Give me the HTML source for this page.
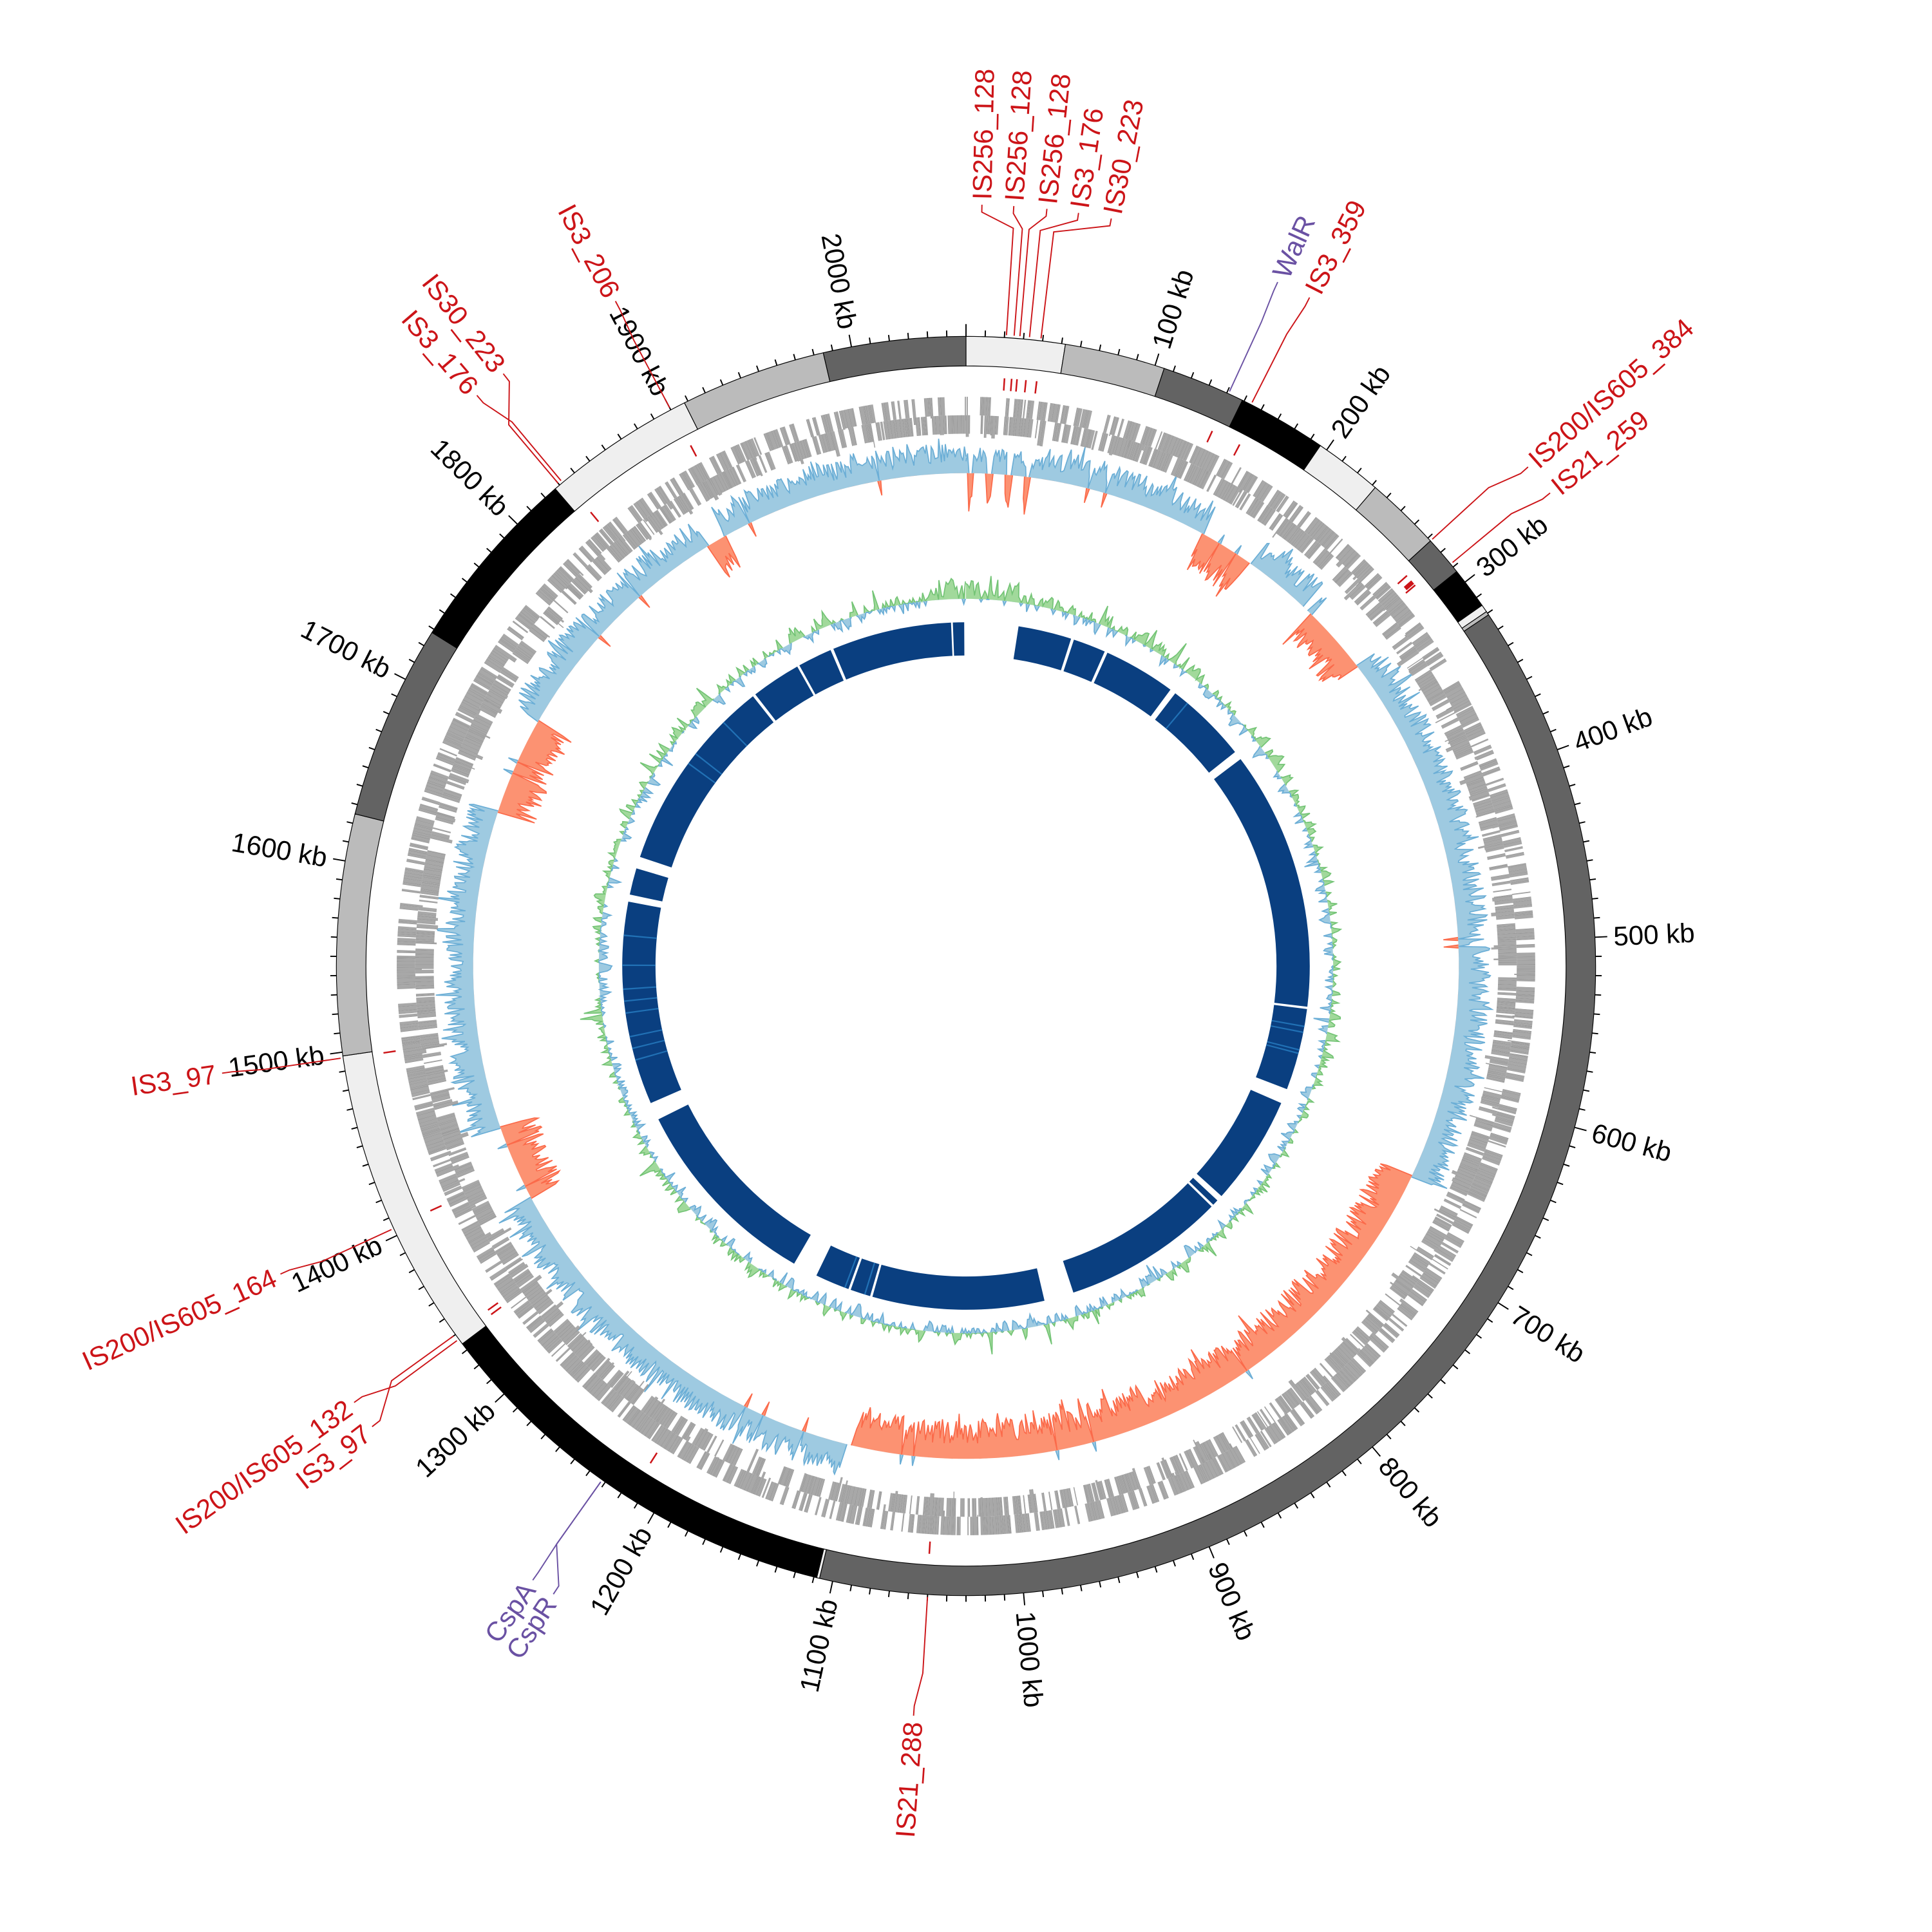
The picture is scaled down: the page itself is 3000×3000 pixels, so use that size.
<!DOCTYPE html>
<html><head><meta charset="utf-8"><style>
html,body{margin:0;padding:0;background:#fff;}
svg{display:block;}
text{font-family:"Liberation Sans Narrow","Liberation Sans",sans-serif;}
</style></head><body>
<svg id="s" xmlns="http://www.w3.org/2000/svg" width="3000" height="3000" viewBox="0 0 1568 1568"></svg>
<script>
(function(){
var S=document.getElementById('s'),C=784,L=2060,out=[];
function A(kb){return kb/L*360;}
function P(r,d){var a=d*Math.PI/180;return [C+r*Math.sin(a),C-r*Math.cos(a)];}
function f(n){return n.toFixed(2);}
function sec(r1,r2,a1,a2){var p1=P(r2,a1),p2=P(r2,a2),p3=P(r1,a2),p4=P(r1,a1),lg=(a2-a1)>180?1:0;
return 'M'+f(p1[0])+' '+f(p1[1])+'A'+r2+' '+r2+' 0 '+lg+' 1 '+f(p2[0])+' '+f(p2[1])+'L'+f(p3[0])+' '+f(p3[1])+'A'+r1+' '+r1+' 0 '+lg+' 0 '+f(p4[0])+' '+f(p4[1])+'Z';}
var seed=12345;function rnd(){seed|=0;seed=seed+0x6D2B79F5|0;var t=Math.imul(seed^seed>>>15,1|seed);t=t+Math.imul(t^t>>>7,61|t)^t;return((t^t>>>14)>>>0)/4294967296;}

var gaps=[[-0.3,8.8],[17.8,18.3],[23.8,24.3],[36.5,37.5],[51.5,53],[96.8,97.2],[111,113.5],[132,133],[134,134.4],[161.8,166.8],[195.8,196.2],[199.6,200],[205.8,210],[243.5,246.5],[280.8,282],[286.5,288.5],[321.7,322.2],[330.6,331],[336.8,337.3],[357.5,357.8]];
gaps.sort(function(a,b){return a[0]-b[0];});
for(var i=1;i<gaps.length;i++){out.push('<path d="'+sec(252,279,gaps[i-1][1],gaps[i][0])+'" fill="#0a3f80"/>');}
out.push('<path d="'+sec(252,279,gaps[gaps.length-1][1],359.7)+'" fill="#0a3f80"/>');
[100,101,104,104.6,254,256,258,262,264,266,270,275,306,308,315,40,200.5,197].forEach(function(a){out.push('<path d="'+sec(252,279,a,a+0.25)+'" fill="#2171b5"/>');});

function track(pts,base,sign,col,stroke){var d='',s='',prevZero=true;
for(var i=0;i<pts.length;i++){var v=pts[i][1];var val=sign>0?Math.max(0,v):Math.min(0,v);var p=P(base+val,A(pts[i][0]));d+=(i?'L':'M')+f(p[0])+' '+f(p[1]);
var nz=(sign>0?v>0:v<0);var nxt=i+1<pts.length?(sign>0?pts[i+1][1]>0:pts[i+1][1]<0):false;var prv=i>0?(sign>0?pts[i-1][1]>0:pts[i-1][1]<0):false;
if(nz||nxt||prv){s+=(prevZero?'M':'L')+f(p[0])+' '+f(p[1]);prevZero=false;}else prevZero=true;}
var back='';for(var i=pts.length-1;i>=0;i-=10){var p=P(base,A(pts[i][0]));back+='L'+f(p[0])+' '+f(p[1]);}
var p=P(base,0);back+='L'+f(p[0])+' '+f(p[1]);
out.push('<path d="'+d+back+'Z" fill="'+col+'"/>');out.push('<path d="'+s+'" fill="none" stroke="'+stroke+'" stroke-width="0.9"/>');}

(function(){var base=298,pts=[],v=0;
for(var k=0;k<=L;k+=1.5){v=v*0.4+(rnd()-0.5)*14;var sp=rnd()<0.05?(rnd()-0.35)*26:0;var val=v+sp;if(k<60||k>2020)val+=rnd()*12;pts.push([k,val]);}
track(pts,base,1,'#a1d99b','#74c476');track(pts,base,-1,'#9ecae1','#6baed6');})();

(function(){var base=400,pts=[];
var orange=[[165,200],[255,300],[660,1106],[1385,1435],[1650,1715],[1880,1893]];
function isO(k){for(var i=0;i<orange.length;i++)if(k>=orange[i][0]&&k<=orange[i][1])return true;if(k<50&&Math.sin(k*0.5)>0.6)return true;return false;}
var gapk=[[1106,1111],[246,252],[200,203]];
for(var k=0;k<=L;k+=1){var g=false;for(var j=0;j<gapk.length;j++)if(k>gapk[j][0]&&k<gapk[j][1])g=true;
var m;if(g)m=0;else if(isO(k)){m=-(12+rnd()*20+(rnd()<0.1?rnd()*10:0));if(rnd()<0.02)m=8;}else{m=8+rnd()*18+(rnd()<0.08?rnd()*12:0);if(k<60)m*=0.8;if(rnd()<0.012)m=-12;}
pts.push([k,m]);}
track(pts,base,1,'#9ecae1','#6baed6');track(pts,base,-1,'#fc9272','#fb6a4a');})();

(function(){var strands=[[447,462],[432,447]];
for(var s=0;s<2;s++){var k=0,d='',dl='';while(k<L){if(rnd()<0.28){k+=0.4+rnd()*3;continue;}var len=0.4+rnd()*2;
var r1=strands[s][0],r2=strands[s][1];if(rnd()<0.12){r1-=rnd()*6;}
d+=sec(r1,r2,A(k),A(Math.min(k+len,L)));
var p1=P(r1,A(k)),p2=P(r2,A(k));dl+='M'+f(p1[0])+' '+f(p1[1])+'L'+f(p2[0])+' '+f(p2[1]);
k+=len+0.1;}
out.push('<path d="'+d+'" fill="#a8a8a8"/>');out.push('<path d="'+dl+'" stroke="#8f8f8f" stroke-width="0.3" fill="none"/>');}
})();

var feats=[21,25,28,33,39,141,158,277,284,1050,1215,1337,1340,1404,1496,1833,1900];
feats.forEach(function(k){out.push('<path d="'+sec(468,478,A(k),A(k+0.9))+'" fill="#cc1418"/>');});
out.push('<path d="'+sec(470,478,A(281),A(283.5))+'" fill="#cc1418"/>');

var segs=[[0,52,'#efefef'],[52,105,'#bbbbbb'],[105,149,'#636363'],[149,196,'#000'],[196,232,'#efefef'],[232,272,'#bbbbbb'],[272,293,'#636363'],[293,315,'#000'],[315,319,'#efefef'],[319,321,'#bbbbbb'],[321,1107,'#636363'],[1107,1108.5,'#efefef'],[1108.5,1110,'#000'],[1110,1334,'#000'],[1334,1498,'#efefef'],[1498,1625,'#bbbbbb'],[1625,1728,'#636363'],[1728,1827,'#000'],[1827,1908,'#efefef'],[1908,1985,'#bbbbbb'],[1985,2060,'#636363']];
segs.forEach(function(s){out.push('<path d="'+sec(487,511,A(s[0]),A(s[1]))+'" fill="'+s[2]+'" stroke="#000" stroke-width="0.6"/>');});

var td='';for(var k=0;k<L;k+=10){var big=k%100==0;var p1=P(511,A(k)),p2=P(big?521:516,A(k));td+='M'+f(p1[0])+' '+f(p1[1])+'L'+f(p2[0])+' '+f(p2[1]);}
out.push('<path d="'+td+'" stroke="#000" stroke-width="1"/>');
function rlabel(r,deg,txt,col,size){var p=P(r,deg);var rot,anc;if(deg>180.5){rot=deg-270;anc='end';}else{rot=deg-90;anc='start';}
out.push('<text x="'+f(p[0])+'" y="'+f(p[1])+'" transform="rotate('+f(rot)+' '+f(p[0])+' '+f(p[1])+')" text-anchor="'+anc+'" dominant-baseline="central" font-size="'+size+'" fill="'+col+'">'+txt+'</text>');}
for(var k=100;k<L;k+=100){rlabel(526,A(k),k+' kb','#000',22);}

function line(pts,col){var d='';pts.forEach(function(q,i){var p=P(q[0],q[1]);d+=(i?'L':'M')+f(p[0])+' '+f(p[1]);});out.push('<path d="'+d+'" fill="none" stroke="'+col+'" stroke-width="1"/>');}
var R='#cc1418',PU='#6a51a3';
var top=[[21,1.2,'IS256_128'],[25,3.6,'IS256_128'],[28,6.1,'IS256_128'],[33,8.5,'IS3_176'],[39,11,'IS30_223']];
top.forEach(function(t){var fa=A(t[0]);line([[513,fa],[600,fa],[612,t[1]],[618,t[1]]],R);rlabel(622,t[1],t[2],R,22);});
function lab(kb,la,txt,col){var fa=A(kb);line([[513,fa],[575,fa],[602,la],[610,la]],col);rlabel(615,la,txt,col,22);}
lab(141,24.5,'WalR',PU);
lab(154,27.2,'IS3_359',R);
lab(272,48.4,'IS200/IS605_384',R);
lab(288,51,'IS21_259',R);
lab(1050,184,'IS21_288',R);
lab(1232,215.2,'CspA',PU);
lab(1232,213.3,'CspR',PU);
lab(1337,234.5,'IS200/IS605_132',R);
lab(1340,232.2,'IS3_97',R);
lab(1404,245.8,'IS200/IS605_164',R);
lab(1497,261.8,'IS3_97',R);
lab(1830,322,'IS30_223',R);
lab(1832,319.4,'IS3_176',R);
lab(1900,332.2,'IS3_206',R);

S.innerHTML=out.join('');
})();
</script>
</body></html>
